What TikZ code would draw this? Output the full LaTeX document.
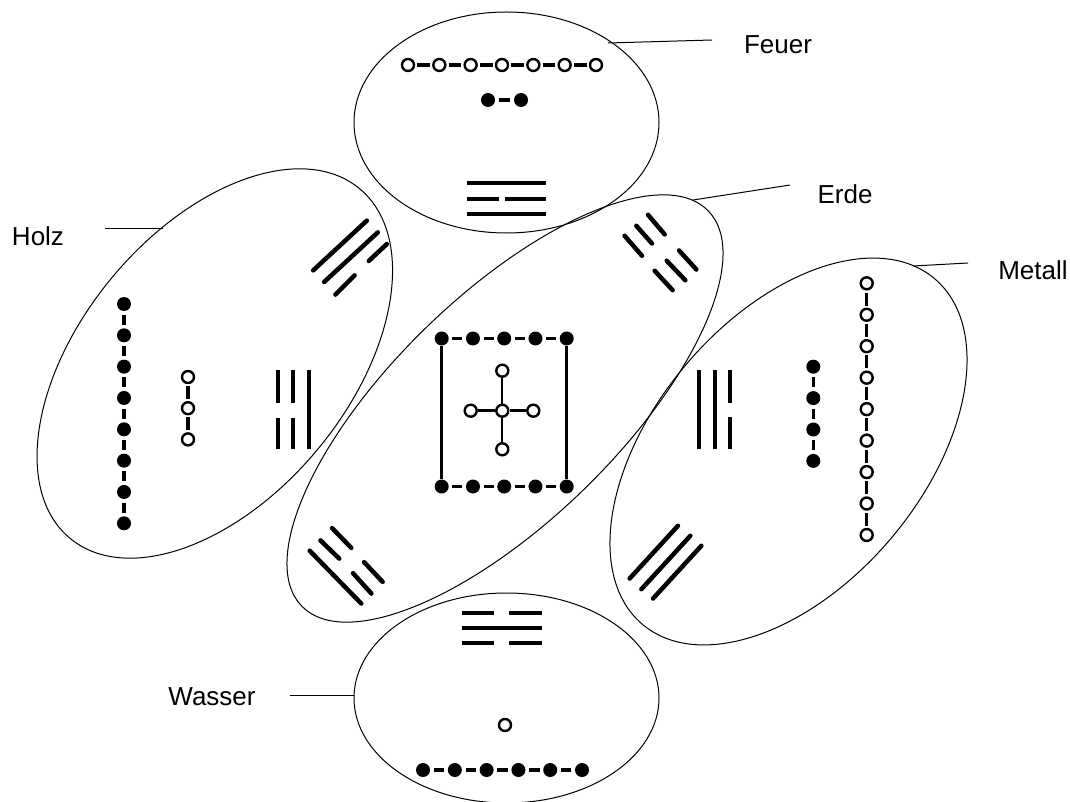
\documentclass[tikz,border=0pt]{standalone}
\usepackage{fontspec}
\setmainfont{Liberation Sans}
\begin{document}
\begin{tikzpicture}[x=1pt,y=-1pt,
  rim/.style={line width=1pt},
  bdot/.style={circle, fill=black, inner sep=0pt, minimum size=14pt},
  wdot/.style={circle, draw=black, line width=2.4pt, fill=white, inner sep=0pt, minimum size=12pt},
  bond/.style={line width=3.5pt, shorten <=3.5pt, shorten >=3.5pt},
  wbond/.style={line width=3.3pt, shorten <=2pt, shorten >=2pt},
  thinbond/.style={line width=1.7pt},
  yao/.style={line width=4pt},
  yaor/.style={line width=4.5pt, line cap=round, shorten <=2pt, shorten >=2pt},
  lbl/.style={font=\fontsize{26}{30}\selectfont, inner sep=0pt},
  lead/.style={line width=1pt}]
\useasboundingbox (0,0) rectangle (1070,802);
\fill[white] (0,0) rectangle (1070,802);

% ---- ellipses ----
\draw[rim] (506.5,122.5) ellipse [x radius=152.5, y radius=110.5];
\draw[rim] (506.5,698) ellipse [x radius=152.5, y radius=105];
\draw[rim, rotate around={50.4:(214.8,363.5)}] (214.8,363.5) ellipse [x radius=227, y radius=134];
\draw[rim, rotate around={44.2:(505,408.5)}] (505,408.5) ellipse [x radius=283.5, y radius=113];
\draw[rim, rotate around={49.8:(788.5,451.5)}] (788.5,451.5) ellipse [x radius=226.3, y radius=134.4];

% ---- labels ----
\node[lbl] (feuer) at (778,45) {Feuer};
\node[lbl] (erde) at (845,194) {Erde};
\node[lbl] (holz) at (38,236) {Holz};
\node[lbl] (metall) at (1033,270) {Metall};
\node[lbl] (wasser) at (212,697) {Wasser};
\coordinate (feuerA) at (608,43);  \coordinate (feuerB) at (712,40);
\coordinate (erdeA) at (693,200);  \coordinate (erdeB) at (790,185);
\coordinate (holzA) at (163,229);  \coordinate (holzB) at (105,229);
\coordinate (metallA) at (913,266); \coordinate (metallB) at (968,263);
\coordinate (wasserA) at (354,695); \coordinate (wasserB) at (290,695);
\draw[lead] (feuerA) -- (feuerB);
\draw[lead] (erdeA) -- (erdeB);
\draw[lead] (holzA) -- (holzB);
\draw[lead] (metallA) -- (metallB);
\draw[lead] (wasserA) -- (wasserB);

% ---- Feuer ----
\foreach \i in {1,...,7} \node[wdot] (fw\i) at ({408+(\i-1)*31.33},65) {};
\foreach \i [count=\j from 2] in {1,...,6} \draw[wbond] (fw\i) -- (fw\j);
\node[bdot] (fb1) at (488,100) {};
\node[bdot] (fb2) at (521,100) {};
\draw[bond] (fb1) -- (fb2);
\draw[yao] (466.7,183.3) -- (546,183.3);
\draw[yao] (466.7,199) -- (499,199);
\draw[yao] (505,199) -- (546,199);
\draw[yao] (466.7,214.3) -- (546,214.3);

% ---- Wasser ----
\draw[yao] (461.7,613.3) -- (494,613.3);
\draw[yao] (509,613.3) -- (542,613.3);
\draw[yao] (461.7,627.7) -- (542,627.7);
\draw[yao] (461.7,643.3) -- (494,643.3);
\draw[yao] (509,643.3) -- (542,643.3);
\node[wdot] (ww1) at (505,725) {};
\foreach \i in {1,...,6} \node[bdot] (wb\i) at ({423+(\i-1)*31.8},770) {};
\foreach \i [count=\j from 2] in {1,...,5} \draw[bond] (wb\i) -- (wb\j);

% ---- Holz ----
\foreach \i in {1,...,8} \node[bdot] (hb\i) at (124,{304+(\i-1)*31.33}) {};
\foreach \i [count=\j from 2] in {1,...,7} \draw[bond] (hb\i) -- (hb\j);
\foreach \i in {1,...,3} \node[wdot] (hw\i) at (188,{377+(\i-1)*31.2}) {};
\foreach \i [count=\j from 2] in {1,...,2} \draw[wbond] (hw\i) -- (hw\j);
\draw[yao] (278,370) -- (278,403.3);
\draw[yao] (278,418.3) -- (278,449.3);
\draw[yao] (293,370) -- (293,403.3);
\draw[yao] (293,418.3) -- (293,449.3);
\draw[yao] (309,370) -- (309,449.3);
\draw[yaor] (311.7,271.7) -- (368.3,219.3);
\draw[yaor] (322.7,283.3) -- (379.3,231);
\draw[yaor] (334,296) -- (356,274);
\draw[yaor] (367.3,262.3) -- (388.3,242.7);

% ---- Metall ----
\draw[yao] (699,370) -- (699,449.3);
\draw[yao] (715,370) -- (715,449.3);
\draw[yao] (730.3,370) -- (730.3,402.7);
\draw[yao] (730.3,417.3) -- (730.3,449.3);
\foreach \i in {1,...,4} \node[bdot] (mb\i) at (813.3,{366.7+(\i-1)*31.4}) {};
\foreach \i [count=\j from 2] in {1,...,3} \draw[bond] (mb\i) -- (mb\j);
\foreach \i in {1,...,9} \node[wdot] (mw\i) at (866.7,{283.3+(\i-1)*31.46}) {};
\foreach \i [count=\j from 2] in {1,...,8} \draw[wbond] (mw\i) -- (mw\j);
\draw[yaor] (628.3,580) -- (679.3,524.3);
\draw[yaor] (640,590.7) -- (691.7,534.3);
\draw[yaor] (651.7,600) -- (702.7,544.3);

% ---- Erde ----
\foreach \i in {1,...,5} \node[bdot] (et\i) at ({441.7+(\i-1)*31.25},338.5) {};
\foreach \i [count=\j from 2] in {1,...,4} \draw[bond] (et\i) -- (et\j);
\foreach \i in {1,...,5} \node[bdot] (eb\i) at ({441.7+(\i-1)*31.25},486.5) {};
\foreach \i [count=\j from 2] in {1,...,4} \draw[bond] (eb\i) -- (eb\j);
\draw[line width=2.6pt] (et1) -- (eb1);
\draw[line width=2.6pt] (et5) -- (eb5);
\node[wdot] (ec) at (502.3,410.7) {};
\node[wdot] (en) at (502.3,370.7) {};
\node[wdot] (es) at (502.3,449.3) {};
\node[wdot] (ew) at (470.7,410.7) {};
\node[wdot] (eo) at (533.3,410.7) {};
\draw[thinbond] (en) -- (ec);
\draw[thinbond] (ec) -- (es);
\draw[line width=3.3pt] (ew) -- (ec);
\draw[line width=3.3pt] (ec) -- (eo);
\draw[yaor] (646.7,213.3) -- (666,236);
\draw[yaor] (677.7,249) -- (697.7,271);
\draw[yaor] (635,224.3) -- (653.3,245);
\draw[yaor] (665.3,259.3) -- (686.7,281.7);
\draw[yaor] (623.3,234.3) -- (643.3,257.3);
\draw[yaor] (653.3,269.3) -- (674,291.7);
\draw[yaor] (330.7,526.7) -- (352.7,549.3);
\draw[yaor] (362.7,560.7) -- (384,583.3);
\draw[yaor] (319,539) -- (340.7,560);
\draw[yaor] (351.7,571.7) -- (372.7,595);
\draw[yaor] (308.3,549.3) -- (362.7,605);
\end{tikzpicture}
\end{document}
